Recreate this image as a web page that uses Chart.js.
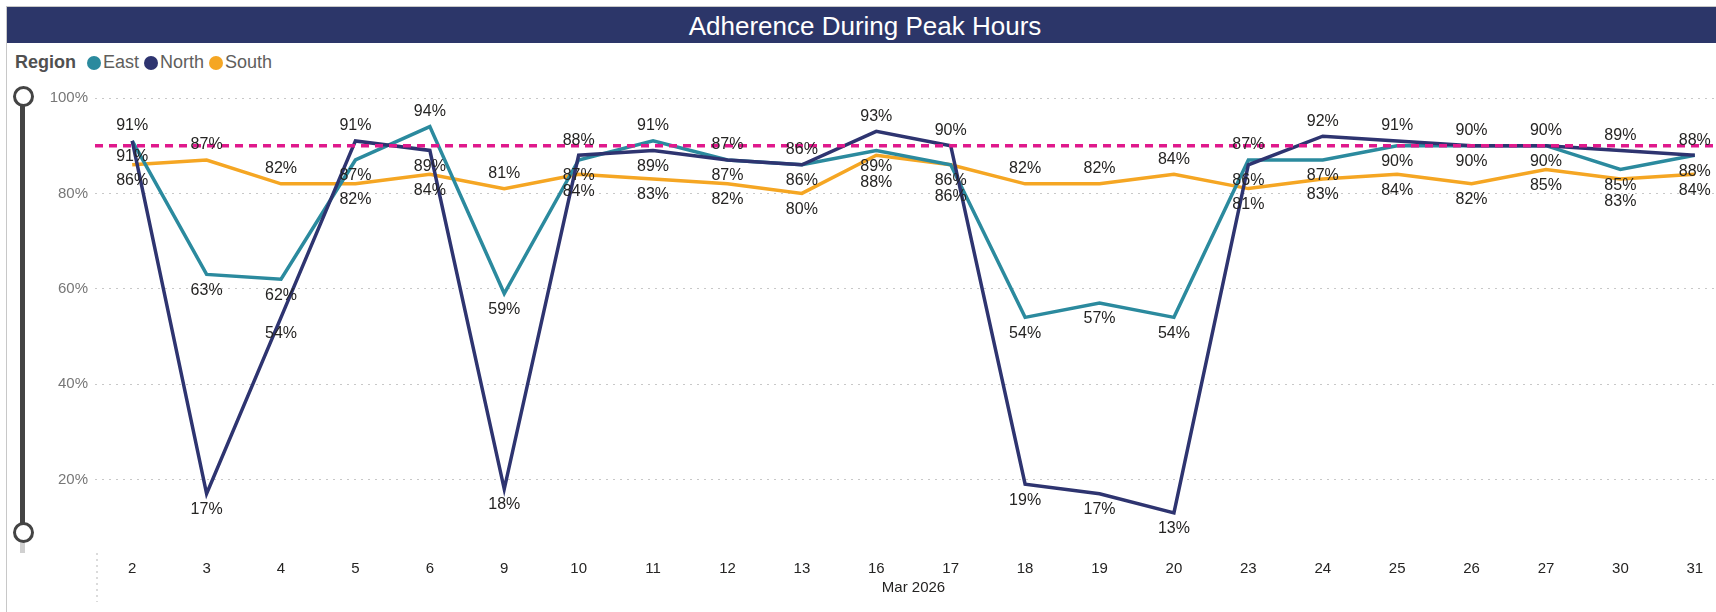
<!DOCTYPE html>
<html>
<head>
<meta charset="utf-8">
<script src="https://cdn.jsdelivr.net/npm/chart.js@4.4.1/dist/chart.umd.min.js"></script>
<style>
  html, body { margin: 0; padding: 0; width: 1716px; height: 612px; overflow: hidden; background: #fff; font-family: "Liberation Sans", Arial, sans-serif; }
  .frame { position: absolute; left: 6px; top: 6px; width: 1720px; height: 620px; border: 1px solid #c8c8c8; }
  .title { position: absolute; left: 7px; top: 7px; width: 1720px; height: 36px; background: #2c3669; color: #fff; }
  .title span { position: absolute; left: 0; width: 1716px; top: 4px; text-align: center; font-size: 26px; }
  .legend { position: absolute; left: 15px; top: 52px; font-size: 18px; color: #605e5c; display: flex; align-items: center; white-space: nowrap; }
  .legend b { color: #505050; margin-right: 11px; }
  .legend .dot { width: 14px; height: 14px; border-radius: 50%; display: inline-block; margin-right: 2px; }
  .legend .item { display: flex; align-items: center; margin-right: 5px; }
  .slider-bar { position: absolute; left: 20px; top: 95px; width: 5px; height: 436px; background: #444; }
  .slider-tail { position: absolute; left: 20px; top: 531px; width: 5px; height: 22px; background: #d0d0d0; }
  .knob { position: absolute; left: 13px; width: 15px; height: 15px; border: 3px solid #444; border-radius: 50%; background: #fff; }
  #wrap { position: absolute; left: 0; top: 80px; width: 1732px; height: 532px; }
</style>
</head>
<body>
<div class="frame"></div>
<div class="title"><span>Adherence During Peak Hours</span></div>
<div class="legend">
  <b>Region</b>
  <span class="item"><span class="dot" style="background:#2b8a9e"></span>East</span>
  <span class="item"><span class="dot" style="background:#2e3470"></span>North</span>
  <span class="item"><span class="dot" style="background:#f5a623"></span>South</span>
</div>
<div class="slider-tail"></div>
<div class="slider-bar"></div>
<div class="knob" style="top:86px"></div>
<div class="knob" style="top:522px"></div>
<div id="wrap"><canvas id="chart"></canvas></div>

<script>
const days = ['2', '3', '4', '5', '6', '9', '10', '11', '12', '13', '16', '17', '18', '19', '20', '23', '24', '25', '26', '27', '30', '31'];
const eastValues  = [91, 63, 62, 87, 94, 59, 87, 91, 87, 86, 89, 86, 54, 57, 54, 87, 87, 90, 90, 90, 85, 88];
const northValues = [91, 17, 54, 91, 89, 18, 88, 89, 87, 86, 93, 90, 19, 17, 13, 86, 92, 91, 90, 90, 89, 88];
const southValues = [86, 87, 82, 82, 84, 81, 84, 83, 82, 80, 88, 86, 82, 82, 84, 81, 83, 84, 82, 85, 83, 84];
const targetValue = 90;
const yTicks = [20, 40, 60, 80, 100];
const monthLabel = 'Mar 2026';

// target line, axis divider and point labels
const overlay = {
    id: 'overlay',
    afterDatasetsDraw(chart) {
        const ctx = chart.ctx;
        const area = chart.chartArea;
        const y = chart.scales.y;

        // dashed target line
        const ty = y.getPixelForValue(targetValue);
        ctx.save();
        ctx.strokeStyle = '#e0198c';
        ctx.lineWidth = 3.5;
        ctx.setLineDash([8, 6]);
        ctx.beginPath();
        ctx.moveTo(area.left, ty);
        ctx.lineTo(area.right, ty);
        ctx.stroke();

        // dotted divider left of the x labels
        ctx.strokeStyle = '#d0d0d0';
        ctx.lineWidth = 1.5;
        ctx.setLineDash([2, 4]);
        ctx.beginPath();
        ctx.moveTo(area.left + 2, area.bottom + 2);
        ctx.lineTo(area.left + 2, chart.height - 10);
        ctx.stroke();
        ctx.restore();

        // data labels
        ctx.save();
        ctx.font = '16px "Liberation Sans", Arial, sans-serif';
        ctx.fillStyle = '#252423';
        ctx.textAlign = 'center';
        ctx.textBaseline = 'middle';
        days.forEach((d, i) => {
            const pts = chart.data.datasets.map((ds, k) => {
                const el = chart.getDatasetMeta(k).data[i];
                return { x: el.x, y: el.y, text: ds.data[i] + '%' };
            }).sort((a, b) => a.y - b.y);
            let prev = null;
            pts.forEach((p, n) => {
                let ly = n === 0 ? p.y - 15 : p.y + 16;
                if (prev !== null && ly - prev < 16) ly = prev + 16;
                ctx.fillText(p.text, p.x, ly);
                prev = ly;
            });
        });
        ctx.restore();
    }
};

const lineSet = (label, data, color, order) => ({
    label: label,
    data: data,
    borderColor: color,
    backgroundColor: color,
    borderWidth: 3.5,
    pointRadius: 0,
    tension: 0,
    fill: false,
    order: order
});

new Chart(document.getElementById('chart').getContext('2d'), {
    type: 'line',
    data: {
        labels: days,
        datasets: [
            lineSet('East', eastValues, '#2b8a9e', 2),
            lineSet('North', northValues, '#2e3470', 1),
            lineSet('South', southValues, '#f5a623', 3)
        ]
    },
    options: {
        responsive: true,
        maintainAspectRatio: false,
        animation: false,
        layout: { padding: { top: 18, left: 0, right: 0, bottom: 15 } },
        plugins: {
            legend: { display: false },
            tooltip: { enabled: false }
        },
        scales: {
            x: {
                offset: true,
                grid: { display: false, drawTicks: false },
                border: { display: false },
                ticks: {
                    color: '#252423',
                    padding: 9,
                    autoSkip: false,
                    maxRotation: 0,
                    font: { family: '"Liberation Sans", Arial, sans-serif', size: 15 }
                },
                title: {
                    display: true,
                    text: monthLabel,
                    color: '#252423',
                    padding: { top: -8, bottom: 0 },
                    font: { family: '"Liberation Sans", Arial, sans-serif', size: 15 }
                }
            },
            y: {
                min: 5,
                max: 100,
                afterBuildTicks: (scale) => { scale.ticks = yTicks.map(v => ({ value: v })); },
                afterFit: (scale) => { scale.width = 95; },
                grid: { color: '#c8c8c8', lineWidth: 1, drawTicks: false },
                border: { display: false, dash: [2, 5] },
                ticks: {
                    color: '#777777',
                    padding: 7,
                    font: { family: '"Liberation Sans", Arial, sans-serif', size: 15 },
                    callback: (v) => v + '%'
                }
            }
        }
    },
    plugins: [overlay]
});
</script>
</body>
</html>
